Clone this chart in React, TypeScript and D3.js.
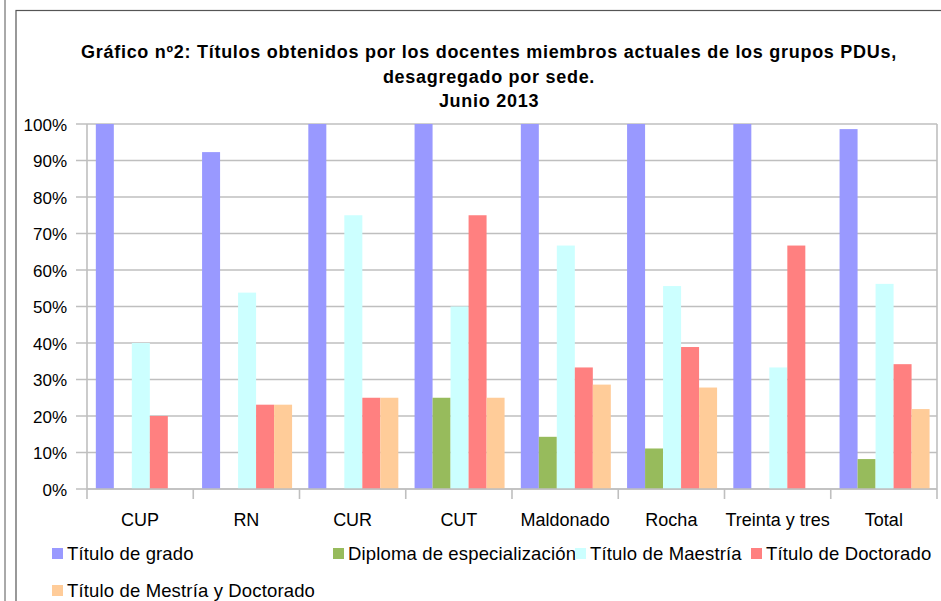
import React from "react";
import * as d3 from "d3";

const categories = ["CUP", "RN", "CUR", "CUT", "Maldonado", "Rocha", "Treinta y tres", "Total"];
const seriesNames = [
  "Título de grado",
  "Diploma de especialización",
  "Título de Maestría",
  "Título de Doctorado",
  "Título de Mestría y Doctorado",
];
const seriesColors = ["#9999ff", "#97bb5c", "#ccffff", "#ff8080", "#ffcc99"];
const tituloGrado = [100, 92.3, 100, 100, 100, 100, 100, 98.6];
const diploma = [0, 0, 0, 25, 14.3, 11.1, 0, 8.2];
const maestria = [40, 53.8, 75, 50, 66.7, 55.6, 33.3, 56.2];
const doctorado = [20, 23.1, 25, 75, 33.3, 38.9, 66.7, 34.2];
const mestriaDoctorado = [0, 23.1, 25, 25, 28.6, 27.8, 0, 21.9];
const seriesValues = [tituloGrado, diploma, maestria, doctorado, mestriaDoctorado];
const yTicks = [0, 10, 20, 30, 40, 50, 60, 70, 80, 90, 100];
const titleLines = [
  "Gráfico nº2: Títulos obtenidos por los docentes miembros actuales de los grupos PDUs,",
  "desagregado por sede.",
  "Junio 2013",
];

const W = 941;
const H = 601;
const left = 87;
const right = 937;
const top = 124;
const bottom = 489;
const font = "'Liberation Sans', Arial, sans-serif";

export default function App() {
  const x0 = d3.scaleBand<string>().domain(categories).range([left, right]).padding(0);
  const bw = x0.bandwidth();
  const barW = 18;
  const groupW = barW * seriesNames.length;
  const x1 = d3
    .scaleBand<string>()
    .domain(seriesNames)
    .range([(bw - groupW) / 2 + 0.7, (bw - groupW) / 2 + 0.7 + groupW]);
  const y = d3.scaleLinear().domain([0, 100]).range([bottom, top]);

  const legendItems = [
    { x: 52, y: 548 },
    { x: 333, y: 548 },
    { x: 575, y: 548 },
    { x: 751, y: 548 },
    { x: 52, y: 585 },
  ];

  return (
    <svg
      width={W}
      height={H}
      style={{ position: "absolute", left: 0, top: 0, background: "#fff" }}
      fontFamily={font}
    >
      <rect x={0} y={0} width={W} height={H} fill="#fff" />
      <line x1={5} y1={0} x2={5} y2={H} stroke="#555" strokeWidth={1} />
      <rect x={16} y={10.5} width={960} height={620} fill="none" stroke="#555" strokeWidth={1.2} />

      {titleLines.map((t, i) => (
        <text
          key={i}
          x={489}
          y={58 + i * 24.5}
          textAnchor="middle"
          fontSize={18}
          letterSpacing={0.72}
          fontWeight="bold"
          fill="#000"
        >
          {t}
        </text>
      ))}

      {/* gridlines and y ticks */}
      {yTicks.map((t) => (
        <g key={t}>
          <line x1={left - 11} x2={right} y1={y(t)} y2={y(t)} stroke="#bfbfbf" strokeWidth={1.6} />
          <text x={67} y={y(t) + 6.5} textAnchor="end" fontSize={17} fill="#000">
            {t}%
          </text>
        </g>
      ))}

      {/* bars */}
      {categories.map((c, ci) => (
        <g key={c} transform={`translate(${x0(c)},0)`}>
          {seriesNames.map((s, si) => {
            const v = seriesValues[si][ci];
            if (!v) return null;
            return (
              <rect
                key={s}
                x={x1(s)}
                y={y(v)}
                width={x1.bandwidth()}
                height={y(0) - y(v)}
                fill={seriesColors[si]}
              />
            );
          })}
        </g>
      ))}

      {/* axes */}
      <line x1={left} x2={left} y1={top} y2={bottom} stroke="#bfbfbf" strokeWidth={1.6} />
      <line x1={right} x2={right} y1={top} y2={bottom} stroke="#bfbfbf" strokeWidth={1.6} />
      <line x1={left} x2={right} y1={bottom} y2={bottom} stroke="#bfbfbf" strokeWidth={1.6} />
      {categories.concat([""]).map((c, i) => {
        const xx = i < categories.length ? (x0(c) as number) : right;
        return <line key={i} x1={xx} x2={xx} y1={bottom} y2={bottom + 10} stroke="#bfbfbf" strokeWidth={1.6} />;
      })}
      {categories.map((c) => (
        <text key={c} x={(x0(c) as number) + bw / 2} y={526} textAnchor="middle" fontSize={18} fill="#000">
          {c}
        </text>
      ))}

      {/* legend */}
      {seriesNames.map((s, i) => (
        <g key={s}>
          <rect x={legendItems[i].x} y={legendItems[i].y} width={11} height={11} fill={seriesColors[i]} />
          <text x={legendItems[i].x + 15} y={legendItems[i].y + 12} fontSize={18.5} letterSpacing={0.15} fill="#000">
            {s}
          </text>
        </g>
      ))}
    </svg>
  );
}
